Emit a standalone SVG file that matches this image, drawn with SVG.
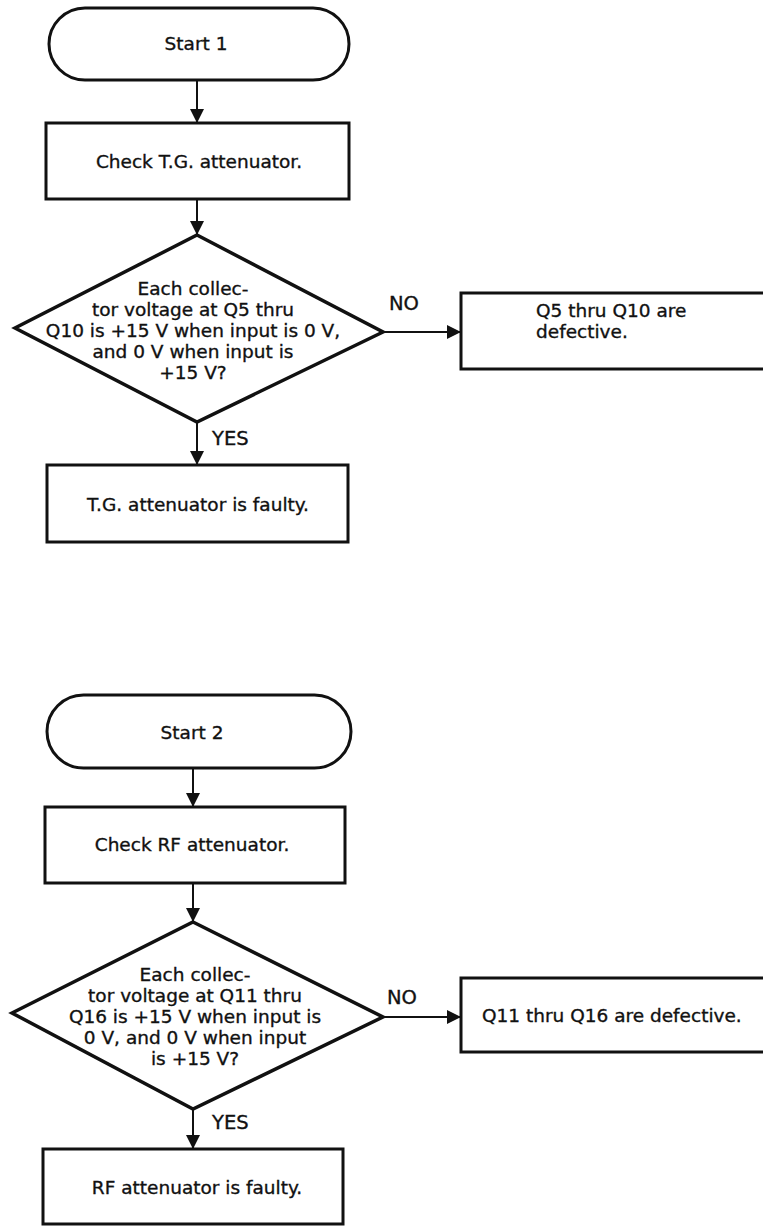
<svg xmlns="http://www.w3.org/2000/svg" width="763" height="1226" viewBox="0 0 763 1226">
  <style>
    .shape { fill: #fff; stroke: #111; stroke-width: 3; }
    .diamond { fill: #fff; stroke: #111; stroke-width: 3.5; stroke-linejoin: miter; }
    .conn { fill: none; stroke: #111; stroke-width: 2; }
    text { font-family: "DejaVu Sans", "Liberation Sans", sans-serif; font-size: 18.5px; fill: #111; stroke: #111; stroke-width: 0.35; }
    .c { text-anchor: middle; }
    .lbl { font-size: 19.5px; }
  </style>
  <defs>
    <marker id="arrow" viewBox="0 0 14 14" refX="14" refY="7" markerWidth="14" markerHeight="15" markerUnits="userSpaceOnUse" orient="auto">
      <path d="M0,0 L14,7 L0,14 z" fill="#111"/>
    </marker>
  </defs>
  <rect width="763" height="1226" fill="#fff"/>

  <!-- connectors -->
  <g id="connectors">
    <line class="conn" x1="197" y1="80" x2="197" y2="123" marker-end="url(#arrow)"/>
    <line class="conn" x1="197" y1="199" x2="197" y2="235" marker-end="url(#arrow)"/>
    <line class="conn" x1="383" y1="332" x2="461" y2="332" marker-end="url(#arrow)"/>
    <line class="conn" x1="197" y1="422" x2="197" y2="465" marker-end="url(#arrow)"/>
    <text class="lbl" x="389" y="310">NO</text>
    <text class="lbl" x="212" y="445">YES</text>

    <line class="conn" x1="193" y1="768" x2="193" y2="807" marker-end="url(#arrow)"/>
    <line class="conn" x1="193" y1="883" x2="193" y2="922" marker-end="url(#arrow)"/>
    <line class="conn" x1="383" y1="1017" x2="461" y2="1017" marker-end="url(#arrow)"/>
    <line class="conn" x1="193" y1="1109" x2="193" y2="1149" marker-end="url(#arrow)"/>
    <text class="lbl" x="387" y="1004">NO</text>
    <text class="lbl" x="212" y="1129">YES</text>
  </g>

  <!-- flow 1 -->
  <g id="start1">
    <rect class="shape" x="49" y="8" width="300" height="72" rx="36" ry="36"/>
    <text class="c" x="196" y="50">Start 1</text>
  </g>
  <g id="check-tg">
    <rect class="shape" x="46" y="123" width="303" height="76"/>
    <text class="c" x="199" y="168">Check T.G. attenuator.</text>
  </g>
  <g id="decision1">
    <polygon class="diamond" points="197,235 383,332 197,422 15,328"/>
    <text class="c" x="193" y="295">Each collec-</text>
    <text class="c" x="193" y="316">tor voltage at Q5 thru</text>
    <text class="c" x="193" y="337">Q10 is +15 V when input is 0 V,</text>
    <text class="c" x="193" y="358">and 0 V when input is</text>
    <text class="c" x="193" y="379">+15 V?</text>
  </g>
  <g id="q5-q10-defective">
    <rect class="shape" x="461" y="293" width="310" height="76"/>
    <text x="536" y="317">Q5 thru Q10 are</text>
    <text x="536" y="338">defective.</text>
  </g>
  <g id="tg-faulty">
    <rect class="shape" x="47" y="465" width="301" height="77"/>
    <text class="c" x="198" y="511">T.G. attenuator is faulty.</text>
  </g>

  <!-- flow 2 -->
  <g id="start2">
    <rect class="shape" x="47" y="695" width="304" height="73" rx="36.5" ry="36.5"/>
    <text class="c" x="192" y="739">Start 2</text>
  </g>
  <g id="check-rf">
    <rect class="shape" x="45" y="807" width="300" height="76"/>
    <text class="c" x="192" y="851">Check RF attenuator.</text>
  </g>
  <g id="decision2">
    <polygon class="diamond" points="193,922 383,1017 193,1109 12,1013"/>
    <text class="c" x="195" y="981">Each collec-</text>
    <text class="c" x="195" y="1002">tor voltage at Q11 thru</text>
    <text class="c" x="195" y="1023">Q16 is +15 V when input is</text>
    <text class="c" x="195" y="1044">0 V, and 0 V when input</text>
    <text class="c" x="195" y="1065">is +15 V?</text>
  </g>
  <g id="q11-q16-defective">
    <rect class="shape" x="461" y="978" width="310" height="74"/>
    <text x="482" y="1022">Q11 thru Q16 are defective.</text>
  </g>
  <g id="rf-faulty">
    <rect class="shape" x="43" y="1149" width="300" height="75"/>
    <text class="c" x="197" y="1194">RF attenuator is faulty.</text>
  </g>
</svg>
